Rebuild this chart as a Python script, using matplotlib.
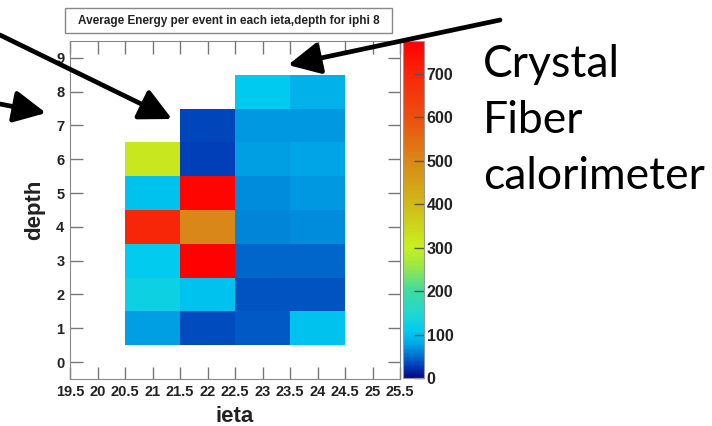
import numpy as np
import matplotlib
matplotlib.use("Agg")
import matplotlib.pyplot as plt
from matplotlib.colors import LinearSegmentedColormap
from matplotlib.patches import FancyArrowPatch, Rectangle

# Average energy per event, iphi 8
ieta_edges = [20.5, 21.5, 22.5, 23.5, 24.5]
depth_edges = [0.5, 1.5, 2.5, 3.5, 4.5, 5.5, 6.5, 7.5, 8.5]
nan = np.nan
# each list is depth 1..8
e_ieta21 = [75, 125, 110, 700, 100, 320, nan, nan]
e_ieta22 = [35, 100, 770, 500, 765, 30, 33, nan]
e_ieta23 = [40, 38, 48, 62, 65, 73, 70, 108]
e_ieta24 = [100, 37, 48, 65, 72, 78, 72, 85]

x_ticks = [19.5, 20, 20.5, 21, 21.5, 22, 22.5, 23, 23.5, 24, 24.5, 25, 25.5]
y_ticks = list(range(10))
cb_ticks = [0, 100, 200, 300, 400, 500, 600, 700]
vmax = 775

title = "Average Energy per event in each ieta,depth for iphi 8"
side_lines = ["Crystal", "Fiber", "calorimeter"]

# root-like rainbow palette
cmap = LinearSegmentedColormap.from_list("rootish", [
    (0.0, "#0a0a80"), (0.026, "#0030b0"), (0.065, "#0070d0"),
    (0.10, "#00a8e8"), (0.14, "#00ccf0"), (0.19, "#20d8d0"),
    (0.26, "#40dca0"), (0.335, "#a0e840"), (0.39, "#c8f020"),
    (0.52, "#d0b818"), (0.645, "#d88818"), (0.77, "#ec5010"),
    (0.90, "#f82808"), (1.0, "#ff0000")])

W, H = 712, 426
fig = plt.figure(figsize=(W / 100, H / 100), dpi=100)
bold = dict(family="Liberation Sans", weight="bold")

def px(x0, y0, x1, y1):
    return [x0 / W, 1 - y1 / H, (x1 - x0) / W, (y1 - y0) / H]

ax = fig.add_axes(px(70, 41, 400, 379))
grid = np.array([e_ieta21, e_ieta22, e_ieta23, e_ieta24]).T
mesh = ax.pcolormesh(ieta_edges, depth_edges, np.ma.masked_invalid(grid),
                     cmap=cmap, vmin=0, vmax=vmax)
ax.set_xlim(19.5, 25.5)
ax.set_ylim(-0.5, 9.5)
ax.set_xticks(x_ticks)
ax.set_xticklabels([f"{t:g}" for t in x_ticks], fontsize=10.5, **bold)
ax.set_yticks(y_ticks)
ax.set_yticklabels([str(t) for t in y_ticks], fontsize=10.5, **bold)
ax.tick_params(direction="in", length=9, width=1, color="#777777",
               top=True, right=True, pad=4, labelcolor="#222222")
for s in ax.spines.values():
    s.set_color("#888888")
ax.set_xlabel("ieta", fontsize=16, labelpad=5.5, color="#222222", **bold)
ax.set_ylabel("depth", fontsize=16, labelpad=8, color="#222222", **bold)

cax = fig.add_axes(px(403, 41, 424, 378))
cb = fig.colorbar(mesh, cax=cax, ticks=cb_ticks)
cb.outline.set_edgecolor("#999999")
cax.tick_params(direction="in", length=7, width=1, color="#555555", pad=2,
                labelcolor="#222222")
for lab in cax.get_yticklabels():
    lab.set_fontsize(11.5)
    lab.set_fontfamily("Liberation Sans")
    lab.set_fontweight("bold")

# title box
fig.add_artist(Rectangle((65 / W, 1 - 33 / H), (392 - 65) / W, 25 / H,
                         transform=fig.transFigure, facecolor="white",
                         edgecolor="#888888", lw=1))
fig.text((65 + 392) / 2 / W, 1 - 21 / H, title, ha="center", va="center",
         fontsize=8.5, color="#222222", **bold)

# side text
for line, yb in zip(side_lines, [77, 133, 189]):
    fig.text(483 / W, 1 - yb / H, line, fontsize=32, family="Lato",
             va="baseline", ha="left", color="black")

# arrows (figure pixels)
arrows = [((0, 35), (172, 119)), ((0, 104), (46, 113)), ((500, 20), (288, 65))]
for (x0, y0), (x1, y1) in arrows:
    a = FancyArrowPatch((x0, H - y0), (x1, H - y1), transform=None,
                        arrowstyle="-|>,head_length=1.3,head_width=0.65",
                        mutation_scale=15, lw=3.4, color="black",
                        shrinkA=0, shrinkB=0, zorder=10)
    fig.add_artist(a)

fig.savefig("out.png", dpi=100)
